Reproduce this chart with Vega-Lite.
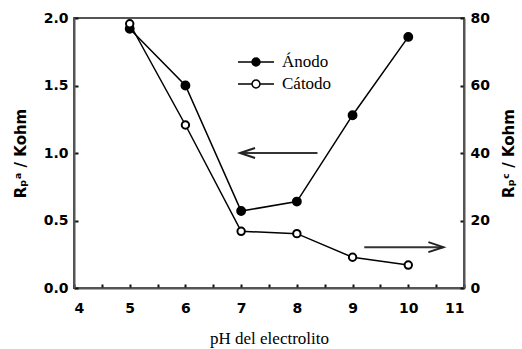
{
  "$schema": "https://vega.github.io/schema/vega-lite/v6.json",
  "width": 390,
  "height": 270,
  "autosize": {"type": "none"},
  "padding": {"left": 74, "top": 18, "right": 58, "bottom": 61},
  "background": "white",
  "datasets": {
    "anodo": [
      {"pH": 5, "Rp": 1.92, "serie": "Ánodo"},
      {"pH": 6, "Rp": 1.50, "serie": "Ánodo"},
      {"pH": 7, "Rp": 0.57, "serie": "Ánodo"},
      {"pH": 8, "Rp": 0.64, "serie": "Ánodo"},
      {"pH": 9, "Rp": 1.28, "serie": "Ánodo"},
      {"pH": 10, "Rp": 1.86, "serie": "Ánodo"}
    ],
    "catodo": [
      {"pH": 5, "Rp": 78.3, "serie": "Cátodo"},
      {"pH": 6, "Rp": 48.3, "serie": "Cátodo"},
      {"pH": 7, "Rp": 16.8, "serie": "Cátodo"},
      {"pH": 8, "Rp": 16.1, "serie": "Cátodo"},
      {"pH": 9, "Rp": 9.1, "serie": "Cátodo"},
      {"pH": 10, "Rp": 6.8, "serie": "Cátodo"}
    ],
    "flechaIzq": [{"pH": 6.98, "pH2": 8.37, "Rp": 1.0}],
    "flechaDer": [{"pH": 9.21, "pH2": 10.63, "Rp": 12.1}]
  },
  "layer": [
    {
      "layer": [
        {
          "data": {"name": "anodo"},
          "mark": {"type": "line", "color": "black", "strokeWidth": 1.5},
          "encoding": {
            "x": {"field": "pH", "type": "quantitative", "title": "pH del electrolito", "scale": {"domain": [4, 11], "nice": false}},
            "y": {"field": "Rp", "type": "quantitative", "title": "Rₚᵃ / Kohm", "scale": {"domain": [0, 2], "nice": false}, "axis": {"orient": "left", "values": [0, 0.5, 1, 1.5, 2], "format": ".1f"}}
          }
        },
        {
          "data": {"name": "flechaIzq"},
          "mark": {"type": "rule", "color": "#333", "strokeWidth": 2},
          "encoding": {
            "x": {"field": "pH", "type": "quantitative", "title": "pH del electrolito"},
            "x2": {"field": "pH2"},
            "y": {"field": "Rp", "type": "quantitative", "title": "Rₚᵃ / Kohm"}
          }
        },
        {
          "data": {"name": "flechaIzq"},
          "mark": {"type": "point", "shape": "M3,-1L0,0L3,1", "size": 100, "filled": false, "stroke": "#222", "strokeWidth": 2, "opacity": 1},
          "encoding": {
            "x": {"field": "pH", "type": "quantitative", "title": "pH del electrolito"},
            "y": {"field": "Rp", "type": "quantitative", "title": "Rₚᵃ / Kohm"}
          }
        },
        {
          "data": {"name": "anodo"},
          "mark": {"type": "point", "shape": "circle", "size": 70, "filled": true, "stroke": "black", "strokeWidth": 1.5, "opacity": 1},
          "encoding": {
            "x": {"field": "pH", "type": "quantitative", "title": "pH del electrolito"},
            "y": {"field": "Rp", "type": "quantitative", "title": "Rₚᵃ / Kohm"},
            "fill": {
              "field": "serie", "type": "nominal",
              "scale": {"domain": ["Ánodo", "Cátodo"], "range": ["black", "white"]},
              "legend": {
                "orient": "none", "legendX": 163, "legendY": 34, "title": null, "padding": 0,
                "symbolType": "M-1,0H-0.22M0.22,0H1M-0.22,0A0.22,0.22 0 1,0 0.22,0A0.22,0.22 0 1,0 -0.22,0",
                "symbolSize": 1296, "symbolStrokeColor": "black", "symbolStrokeWidth": 1.5, "symbolOpacity": 1,
                "labelFont": "Liberation Serif", "labelFontSize": 17, "labelColor": "black", "labelOffset": 7,
                "clipHeight": 20, "rowPadding": 2
              }
            }
          }
        }
      ]
    },
    {
      "layer": [
        {
          "data": {"name": "catodo"},
          "mark": {"type": "line", "color": "black", "strokeWidth": 1.5},
          "encoding": {
            "x": {"field": "pH", "type": "quantitative", "title": "pH del electrolito"},
            "y": {"field": "Rp", "type": "quantitative", "title": "Rₚᶜ / Kohm", "scale": {"domain": [0, 80], "nice": false}, "axis": {"orient": "right", "values": [0, 20, 40, 60, 80], "titleAngle": 270}}
          }
        },
        {
          "data": {"name": "flechaDer"},
          "mark": {"type": "rule", "color": "#333", "strokeWidth": 2},
          "encoding": {
            "x": {"field": "pH", "type": "quantitative", "title": "pH del electrolito"},
            "x2": {"field": "pH2"},
            "y": {"field": "Rp", "type": "quantitative", "title": "Rₚᶜ / Kohm"}
          }
        },
        {
          "data": {"name": "flechaDer"},
          "mark": {"type": "point", "shape": "M-3,-1L0,0L-3,1", "size": 100, "filled": false, "stroke": "#222", "strokeWidth": 2, "opacity": 1},
          "encoding": {
            "x": {"field": "pH2", "type": "quantitative", "title": "pH del electrolito"},
            "y": {"field": "Rp", "type": "quantitative", "title": "Rₚᶜ / Kohm"}
          }
        },
        {
          "data": {"name": "catodo"},
          "mark": {"type": "point", "shape": "circle", "size": 55, "filled": true, "stroke": "black", "strokeWidth": 2, "opacity": 1},
          "encoding": {
            "x": {"field": "pH", "type": "quantitative", "title": "pH del electrolito"},
            "y": {"field": "Rp", "type": "quantitative", "title": "Rₚᶜ / Kohm"},
            "fill": {"field": "serie", "type": "nominal"}
          }
        }
      ]
    }
  ],
  "resolve": {"scale": {"y": "independent"}},
  "config": {
    "view": {"stroke": "#555", "strokeWidth": 2},
    "axis": {
      "grid": false,
      "domainColor": "#555", "domainWidth": 2,
      "tickColor": "#111", "tickWidth": 2, "tickSize": -4,
      "labelFont": "DejaVu Sans", "labelFontWeight": "bold", "labelFontSize": 14, "labelColor": "black",
      "titleFont": "DejaVu Sans", "titleFontWeight": "bold", "titleFontSize": 15, "titleColor": "black"
    },
    "axisX": {"values": [4, 5, 6, 7, 8, 9, 10, 11], "format": "d", "labelPadding": 17, "titleFont": "Liberation Serif", "titleFontWeight": "normal", "titleFontSize": 17, "titlePadding": 15},
    "axisLeft": {"labelPadding": 10, "titlePadding": 15},
    "axisRight": {"labelPadding": 10, "titlePadding": 27}
  }
}
